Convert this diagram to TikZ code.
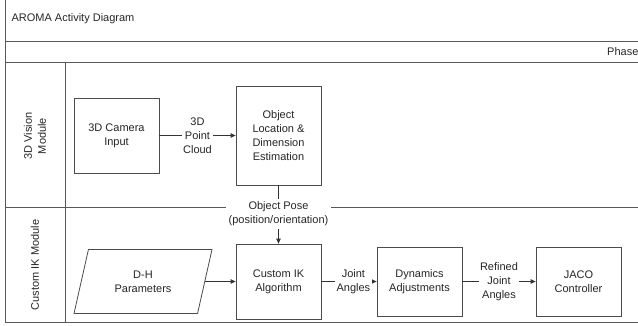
\documentclass[tikz,border=0pt]{standalone}
\usepackage{fontspec}
\setmainfont{Liberation Sans}
\usetikzlibrary{arrows.meta}
\usetikzlibrary{shapes.geometric}

\begin{document}
\begin{tikzpicture}[x=1pt,y=-1pt,
  font=\fontsize{11}{14}\selectfont, text=black!85,
  box/.style={draw=black!70, line width=0.8pt, fill=white, align=center, minimum width=85pt},
  lbl/.style={fill=white, align=center, inner sep=1.5pt},
  conn/.style={draw=black!80, line width=0.8pt},
  flow/.style={conn, -{Triangle[length=5pt,width=4.5pt]}},
  frame/.style={draw=black!65, line width=1pt}]
\useasboundingbox (0,0) rectangle (638,325);
% frame and lanes
\draw[frame] (5,-5) -- (5,322) -- (645,322);
\draw[frame] (5,41) -- (645,41);
\draw[frame] (5,62) -- (645,62);
\draw[frame] (65,62) -- (65,322);
\draw[frame] (5,207) -- (645,207);
% headings
\node[anchor=west] (title) at (8,19) {AROMA Activity Diagram};
\node[anchor=west, inner sep=0pt] (phase) at (607,52) {Phase};
\node[rotate=90, align=center] (vision) at (35,136) {3D Vision\\Module};
\node[rotate=90] (ikmod) at (35,265) {Custom IK Module};
% activities
\node[box, minimum height=75pt] (cam) at (116.5,135.5) {3D Camera\\Input};
\node[box, minimum height=99pt] (loc) at (278.5,135.5) {Object\\Location \&\\Dimension\\Estimation};
\node[box, trapezium, trapezium left angle=63, trapezium right angle=117,
  trapezium stretches body, minimum width=138pt, minimum height=64pt] (dh) at (143,281.5) {D-H\\Parameters};
\node[box, minimum height=75pt] (ik) at (278.5,281.5) {Custom IK\\Algorithm};
\node[box, minimum height=69pt] (dyn) at (419.5,281.5) {Dynamics\\Adjustments};
\node[box, minimum height=69pt] (jaco) at (578.5,281.5) {JACO\\Controller};
% flows
\draw[flow] (cam) -- node[lbl] (pc) {3D\\Point\\Cloud} (loc);
\node[lbl, inner sep=3pt] (op) at (278.5,214) {Object Pose\\(position/orientation)};
\draw[conn] (loc) -- (op);
\draw[flow] (op) -- (ik);
\draw[flow] (dh) -- (ik);
\draw[flow] (ik) -- node[lbl, pos=0.58] (ja) {Joint\\Angles} (dyn);
\draw[flow] (dyn) -- node[lbl] (rja) {Refined\\Joint\\Angles} (jaco);
\end{tikzpicture}
\end{document}
